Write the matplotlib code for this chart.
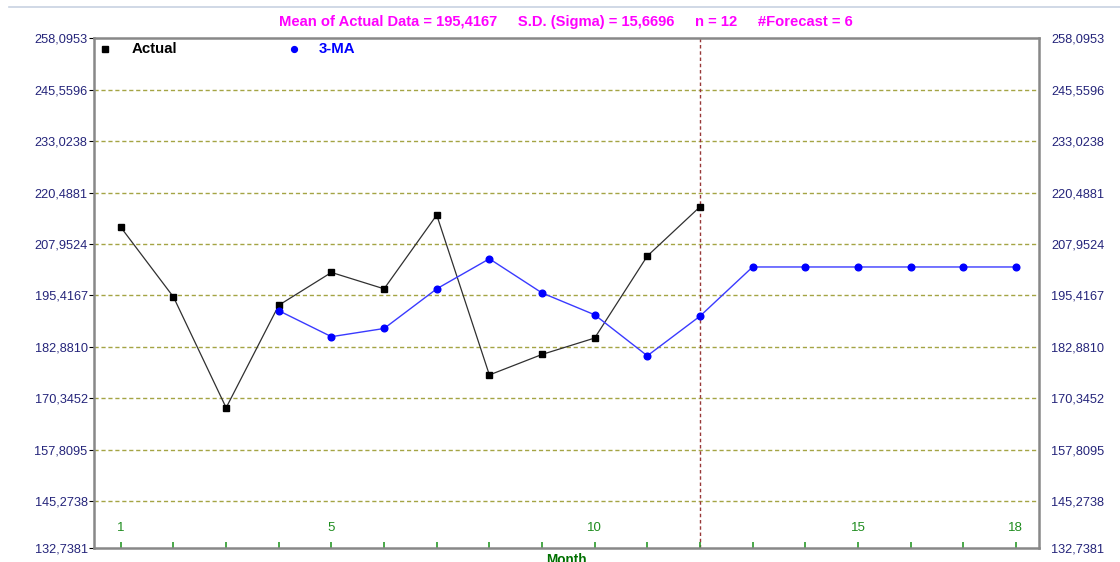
import matplotlib
matplotlib.use("Agg")
import matplotlib.pyplot as plt
from matplotlib.lines import Line2D
from matplotlib.transforms import blended_transform_factory

plt.rcParams['font.family'] = ['Liberation Sans', 'DejaVu Sans']

# ---- data ----
months_actual = [1, 2, 3, 4, 5, 6, 7, 8, 9, 10, 11, 12]
actual = [212, 195, 168, 193, 201, 197, 215, 176, 181, 185, 205, 217]
months_ma = [4, 5, 6, 7, 8, 9, 10, 11, 12, 13, 14, 15, 16, 17, 18]
ma3 = [191.67, 185.33, 187.33, 197.00, 204.33, 196.00, 190.67, 180.67,
       190.33, 202.33, 202.33, 202.33, 202.33, 202.33, 202.33]
grid_values = [145.2738, 157.8095, 170.3452, 182.8810, 195.4167,
               207.9524, 220.4881, 233.0238, 245.5596]
ytick_values = [133.8, 145.2738, 157.8095, 170.3452, 182.8810, 195.4167,
                207.9524, 220.4881, 233.0238, 245.5596, 258.0953]
ytick_labels = ["132,7381", "145,2738", "157,8095", "170,3452", "182,8810",
                "195,4167", "207,9524", "220,4881", "233,0238", "245,5596",
                "258,0953"]
xtick_labels = {1: "1", 5: "5", 10: "10", 15: "15", 18: "18"}
title = ("Mean of Actual Data = 195,4167     S.D. (Sigma) = 15,6696     "
         "n = 12     #Forecast = 6")
forecast_start = 12

W, H = 1120, 562
fig = plt.figure(figsize=(W / 100, H / 100), dpi=100)
fig.patch.set_facecolor('white')
x0, x1, ytop, ybot = 94, 1039, 38.3, 548
ax = fig.add_axes([x0 / W, 1 - ybot / H, (x1 - x0) / W, (ybot - ytop) / H])
ax.set_xlim(0.49, 18.44)
ax.set_ylim(ytick_values[0], ytick_values[-1])

# top thin line
fig.add_artist(Line2D([0.008, 1.0], [1 - 7 / H, 1 - 7 / H], transform=fig.transFigure,
                      color='#c8d2e2', lw=1.2))

# grid
for g in grid_values:
    ax.axhline(g, color='#a4a444', lw=1.0, ls=(0, (3, 2)), zorder=1)
ax.axvline(forecast_start, color='#983838', lw=1.0, ls=(0, (2.5, 2)), zorder=1)

# series
ax.plot(months_actual, actual, color='#303030', lw=0.9, marker='s', ms=4.2,
        mfc='black', mec='black', zorder=3)
ax.plot(months_ma, ma3, color='#3a3aff', lw=1.0, marker='o', ms=4.8,
        mfc='#0000ff', mec='#0000ff', zorder=4)

# spines
for s in ax.spines.values():
    s.set_color('#888888')
    s.set_linewidth(1.8)

# y ticks both sides
ax.set_yticks(ytick_values)
ax.set_yticklabels(ytick_labels)
ax.tick_params(axis='y', left=False, pad=1.0, labelsize=9.2, labelcolor='#24247a')
ax2 = ax.twinx()
ax2.set_ylim(ax.get_ylim())
ax2.set_yticks(ytick_values)
ax2.set_yticklabels(ytick_labels)
ax2.tick_params(axis='y', right=False, pad=5.5, labelsize=9.2, labelcolor='#24247a')
for s in ax2.spines.values():
    s.set_visible(False)

# x ticks inside
ax.set_xticks(list(range(1, 19)))
ax.set_xticklabels([])
ax.tick_params(axis='x', direction='in', length=4, width=1.2, color='#2a9a2a')
trans = blended_transform_factory(ax.transData, ax.transAxes)
for m, lab in xtick_labels.items():
    ax.text(m, (ybot - 528) / (ybot - ytop), lab, transform=trans, ha='center',
            va='center', fontsize=9.5, color='#1e8c1e')

# month label
fig.text(566 / W, 1 - 552.5 / H, "Month", ha='center', va='top', fontsize=9.8,
         fontweight='bold', color='#007000')

# title
fig.text(566 / W, 1 - 22 / H, title, ha='center', va='center', fontsize=10.6,
         fontweight='bold', color='#ff00ff')

# legend
fig.add_artist(Line2D([105 / W], [1 - 49 / H], marker='s', ms=3.8, color='black',
                      ls='none', transform=fig.transFigure))
fig.text(132 / W, 1 - 49 / H, "Actual", ha='left', va='center', fontsize=10.8,
         fontweight='bold', color='black')
fig.add_artist(Line2D([293.5 / W], [1 - 49 / H], marker='o', ms=4.2, color='#0000ff',
                      ls='none', transform=fig.transFigure))
fig.text(319 / W, 1 - 49 / H, "3-MA", ha='left', va='center', fontsize=10.8,
         fontweight='bold', color='#0000ff')

fig.savefig("out.png", dpi=100)
